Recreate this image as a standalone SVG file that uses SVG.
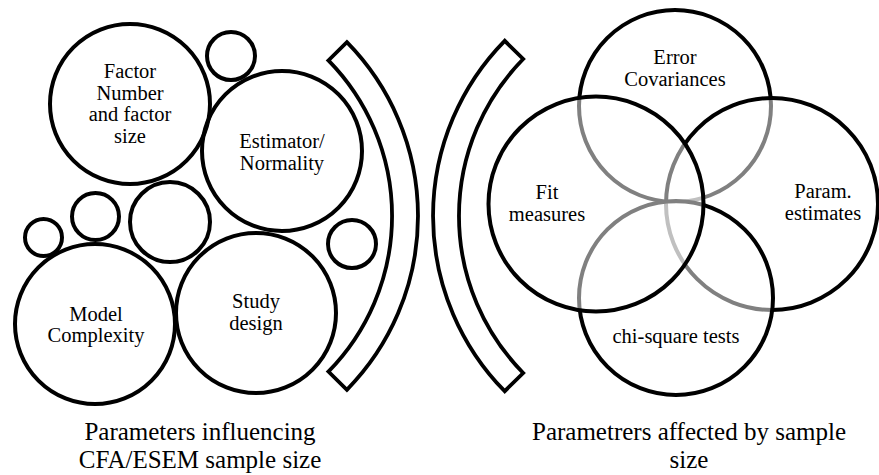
<svg xmlns="http://www.w3.org/2000/svg" width="879" height="475" viewBox="0 0 879 475">
<style>
.c{fill:none;stroke:#000;stroke-width:4}
.v{fill:#fff;fill-opacity:0.5;stroke:#000;stroke-width:4}
.b{fill:#fff;stroke:#000;stroke-width:3.8;stroke-linejoin:miter}
text{font-family:"Liberation Serif","Times New Roman","DejaVu Serif",serif;fill:#000;text-anchor:middle}
.t{font-size:20.5px}
.cap{font-size:25px}
</style>
<rect width="879" height="475" fill="#fff"/>
<g id="left-panel">
<g id="factor"><circle class="c" cx="130" cy="104" r="80"/>
<text class="t" x="130" y="78">Factor</text><text class="t" x="130" y="99.5">Number</text><text class="t" x="130" y="121">and factor</text><text class="t" x="130" y="142.5">size</text></g>
<g id="small1"><circle class="c" cx="231" cy="56" r="24"/></g>
<g id="estimator"><circle class="c" cx="282" cy="151" r="80"/>
<text class="t" x="282" y="148">Estimator/</text><text class="t" x="282" y="170">Normality</text></g>
<g id="small2"><circle class="c" cx="170" cy="222" r="40"/></g>
<g id="small3"><circle class="c" cx="95.5" cy="216.5" r="23.5"/></g>
<g id="small4"><circle class="c" cx="43.5" cy="237.5" r="18.5"/></g>
<g id="small5"><circle class="c" cx="352" cy="244" r="24"/></g>
<g id="model"><circle class="c" cx="95" cy="324" r="80"/>
<text class="t" x="96" y="321">Model</text><text class="t" x="96" y="342">Complexity</text></g>
<g id="study"><circle class="c" cx="256" cy="313" r="80"/>
<text class="t" x="256" y="308">Study</text><text class="t" x="256" y="330">design</text></g>
<g id="bracket-left"><path class="b" d="M346.9,42.2 A248,248 0 0 1 346.9,389.8 L328.4,371.6 A222,222 0 0 0 328.4,60.4 Z"/></g>
<g id="caption-left"><text class="cap" x="200" y="440">Parameters influencing</text><text class="cap" x="200" y="468">CFA/ESEM sample size</text></g>
</g>
<g id="right-panel">
<g id="bracket-right"><path class="b" d="M504.7,40.8 A250,250 0 0 0 504.7,391.2 L523.2,373 A224,224 0 0 1 523.2,59 Z"/></g>
<g id="error"><circle class="v" cx="675" cy="106" r="96"/></g>
<g id="param"><circle class="v" cx="772" cy="204" r="106"/></g>
<g id="chi"><circle class="v" cx="676" cy="298" r="97"/></g>
<g id="fit"><circle class="v" cx="596" cy="204" r="107.5"/></g>
<g id="labels-right">
<text class="t" x="675" y="64">Error</text><text class="t" x="675" y="85.5">Covariances</text>
<text class="t" x="823" y="198">Param.</text><text class="t" x="823" y="220">estimates</text>
<text class="t" x="676" y="343">chi-square tests</text>
<text class="t" x="547" y="199">Fit</text><text class="t" x="547" y="221">measures</text>
</g>
<g id="caption-right"><text class="cap" x="689" y="440">Parametrers affected by sample</text><text class="cap" x="689" y="468">size</text></g>
</g>
</svg>
